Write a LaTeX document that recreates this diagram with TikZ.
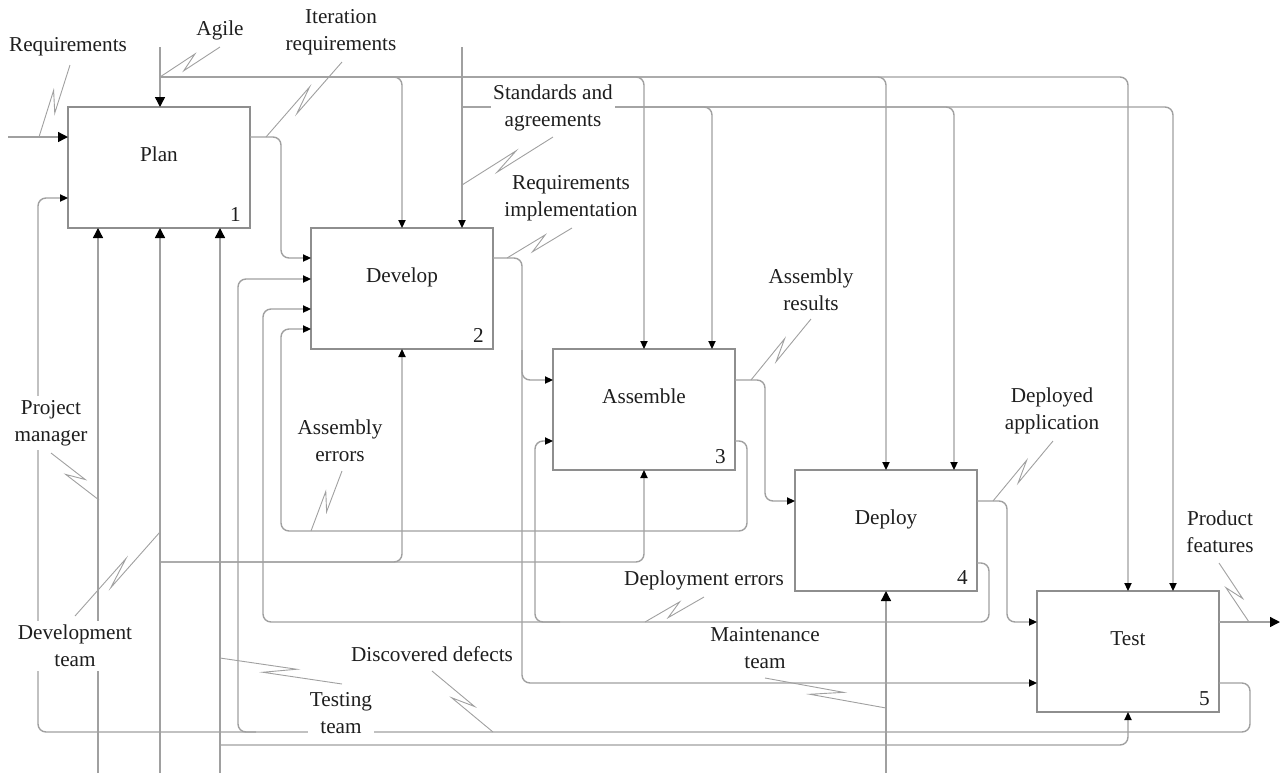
\documentclass[tikz,border=0pt]{standalone}
\usepackage{fontspec}
\setmainfont{Liberation Serif}
\usepackage{tikz}
\usetikzlibrary{
  arrows.meta,
  positioning,
  calc
}
\definecolor{linegrey}{HTML}{A0A0A0}
\definecolor{boxgrey}{HTML}{8E8E8E}
\definecolor{textdark}{HTML}{1E1E1E}
\tikzset{
  fnbox/.style={
    rectangle, draw=boxgrey, fill=white, line width=0.7pt,
    minimum width=91pt, minimum height=60.5pt, inner sep=0pt, outer sep=0pt,
    text height=8pt, text depth=14pt,
    font=\fontsize{10.6}{13.5}\selectfont, text=textdark
  },
  numlbl/.style={
    anchor=south east, inner xsep=4.5pt, inner ysep=3pt,
    font=\fontsize{10.6}{13.5}\selectfont, text=textdark
  },
  wire/.style={
    draw=linegrey, line width=0.7pt, rounded corners=4pt
  },
  flow/.style={
    wire, -{Triangle[length=4pt,width=3.6pt,color=black]}
  },
  flowbig/.style={
    wire, -{Triangle[length=5pt,width=5pt,color=black]}
  },
  lbl/.style={
    font=\fontsize{10.6}{13.5}\selectfont, text=textdark,
    align=center, inner sep=1pt
  },
  gaplbl/.style={
    lbl, fill=white, inner xsep=1pt, inner ysep=2pt
  },
  squigline/.style={
    draw=linegrey, line width=0.45pt
  },
}
% zigzag leader from a line to its label
\newcommand{\lblsquig}[2]{%
  \coordinate (sq-a) at #1;
  \coordinate (sq-b) at #2;
  \coordinate (sq-p) at ($(sq-a)!0.62!(sq-b)$);
  \coordinate (sq-q) at ($(sq-a)!0.36!(sq-b)$);
  \draw[squigline] (sq-a) -- ($(sq-p)!2.5pt!90:(sq-b)$)
    -- ($(sq-q)!2.5pt!-90:(sq-b)$) -- (sq-b);%
}

\begin{document}
\begin{tikzpicture}[x=0.5pt,y=-0.5pt]
  \useasboundingbox (0,0) rectangle (1282,773);

  % activities
  \node[fnbox, anchor=north west, label={[numlbl]south east:1}]
    (plan) at (68,107) {Plan};
  \node[fnbox, anchor=north west, label={[numlbl]south east:2}]
    (dev) at ($(plan.south east)+(61,0)$) {Develop};
  \node[fnbox, anchor=north west, label={[numlbl]south east:3}]
    (asm) at ($(dev.south east)+(60,0)$) {Assemble};
  \node[fnbox, anchor=north west, label={[numlbl]south east:4}]
    (dep) at ($(asm.south east)+(60,0)$) {Deploy};
  \node[fnbox, anchor=north west, label={[numlbl]south east:5}]
    (tst) at ($(dep.south east)+(60,0)$) {Test};

  % boundary ends and branch points
  \coordinate (reqin) at (8,137);
  \coordinate (pfout) at (1280,622);
  \coordinate (agtop) at (160,47);
  \coordinate (sttop) at (462,47);
  \coordinate (agj) at (160,77);
  \coordinate (stj) at (462,107);
  \coordinate (pmbot) at (98,773);
  \coordinate (dtbot) at (160,773);
  \coordinate (ttbot) at (220,773);
  \coordinate (mtbot) at (886,773);
  \coordinate (dtj) at (160,562);
  \coordinate (ttj) at (220,745);
  \coordinate (rij) at (522,350);
  \coordinate (dej) at (560,622);
  \coordinate (ddj) at (256,732);

  % inputs and outputs
  \draw[flowbig] (reqin) -- (reqin -| plan.west);
  \draw[flow] (plan.east |- reqin) -- (281,137) -- (281,258) -- (dev.west |- 0,258);
  \draw[flow] (dev.east |- 0,258) -- (522,258) -- (522,380) -- (asm.west |- 0,380);
  \draw[flow] (rij) -- (522,683) -- (tst.west |- 0,683);
  \draw[flow] (asm.east |- 0,380) -- (765,380) -- (765,501) -- (dep.west |- 0,501);
  \draw[flow] (dep.east |- 0,501) -- (1007,501) -- (1007,622) -- (tst.west |- 0,622);
  \draw[flowbig] (tst.east |- pfout) -- (pfout);

  % controls
  \draw[flowbig] (agtop) -- (agtop |- plan.north);
  \draw[flow] (agj) -| (dev.north);
  \draw[flow] (agj) -| (asm.north);
  \draw[flow] (agj) -| (dep.north);
  \draw[flow] (agj) -| (tst.north);
  \draw[flow] (sttop) -- (sttop |- dev.north);
  \draw[flow] (stj) -| ([xshift=34pt]asm.north);
  \draw[flow] (stj) -| ([xshift=34pt]dep.north);
  \draw[flow] (stj) -| ([xshift=22.5pt]tst.north);

  % feedback
  \draw[flow] (asm.east |- 0,441) -- (747,441) -- (747,531) -- (281,531)
    -- (281,329) -- (dev.west |- 0,329);
  \draw[flow] (dep.east |- 0,563) -- (989,563) -- (989,622) -- (263,622)
    -- (263,309) -- (dev.west |- 0,309);
  \draw[flow] (dej) -- (535,622) -- (535,441) -- (asm.west |- 0,441);
  \draw[flow] (tst.east |- 0,683) -- (1250,683) -- (1250,732) -- (38,732)
    -- (38,198) -- (plan.west |- 0,198);
  \draw[flow] (ddj) -- (238,732) -- (238,279) -- (dev.west |- 0,279);

  % mechanisms
  \draw[flowbig] (pmbot) -- (pmbot |- plan.south);
  \draw[flowbig] (dtbot) -- (dtbot |- plan.south);
  \draw[flowbig] (ttbot) -- (ttbot |- plan.south);
  \draw[flow] (dtj) -| (dev.south);
  \draw[flow] (dtj) -| (asm.south);
  \draw[flow] (ttj) -| (tst.south);
  \draw[flowbig] (mtbot) -- (mtbot |- dep.south);

  % labels
  \node[lbl] (lreq) at (68,47) {Requirements};
  \node[lbl] (lagile) at (220,30) {Agile};
  \node[lbl] (liter) at (341,32) {Iteration\\requirements};
  \node[gaplbl] (lstd) at (553,108) {Standards and\\agreements};
  \node[lbl] (lrimp) at (571,198) {Requirements\\implementation};
  \node[lbl] (lares) at (811,290) {Assembly\\results};
  \node[lbl] (ldepa) at (1052,411) {Deployed\\application};
  \node[lbl] (lpf) at (1220,532) {Product\\features};
  \node[gaplbl] (lpm) at (51,423) {Project\\manager};
  \node[lbl] (laerr) at (340,441) {Assembly\\errors};
  \node[gaplbl] (ldt) at (75,646) {Development\\team};
  \node[gaplbl] (ltt) at (341,713) {Testing\\team};
  \node[lbl] (ldd) at (432,654) {Discovered defects};
  \node[lbl] (lderr) at (704,580) {Deployment errors};
  \node[lbl] (lmt) at (765,648) {Maintenance\\team};

  \lblsquig{(39,137)}{($(lreq)+(2,18)$)}
  \lblsquig{(160,77)}{($(lagile)+(0,17)$)}
  \lblsquig{(266,137)}{($(liter)+(1,30)$)}
  \lblsquig{(462,185)}{($(lstd)+(0,29)$)}
  \lblsquig{(507,258)}{($(lrimp)+(1,30)$)}
  \lblsquig{(751,380)}{($(lares)+(0,29)$)}
  \lblsquig{(993,501)}{($(ldepa)+(1,30)$)}
  \lblsquig{(1249,622)}{($(lpf)+(-1,31)$)}
  \lblsquig{(99,500)}{($(lpm)+(0,30)$)}
  \lblsquig{(311,531)}{($(laerr)+(2,30)$)}
  \lblsquig{(160,532)}{($(ldt)+(0,-30)$)}
  \lblsquig{(220,658)}{($(ltt)+(1,-29)$)}
  \lblsquig{(493,732)}{($(ldd)+(0,17)$)}
  \lblsquig{(645,622)}{($(lderr)+(0,17)$)}
  \lblsquig{(886,708)}{($(lmt)+(0,30)$)}
\end{tikzpicture}
\end{document}
